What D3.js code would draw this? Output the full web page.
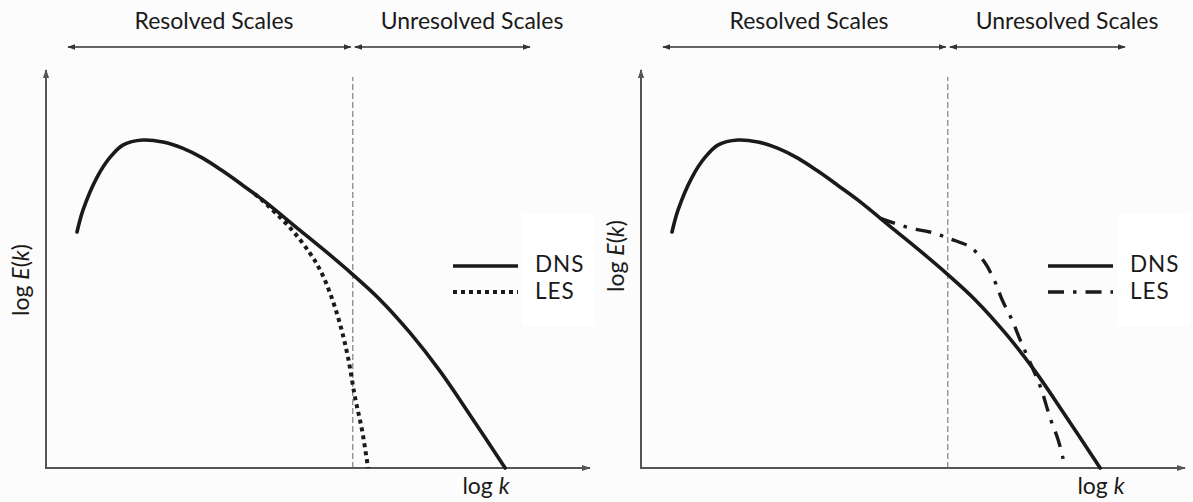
<!DOCTYPE html>
<html>
<head>
<meta charset="utf-8">
<script src="https://cdn.jsdelivr.net/npm/d3@7"></script>
<style>
  html, body { margin: 0; padding: 0; background: #fcfcfc; }
  svg { display: block; }
  text { font-family: Lato, "Open Sans", sans-serif; fill: #1a1a1a; }
</style>
</head>
<body>
<svg id="chart" width="1193" height="502"></svg>
<script>
// Energy spectrum, arbitrary log units (log k on x, log E(k) on y)
const dnsLogK = [0.57, 0.68, 0.94, 1.18, 1.42, 1.78, 2.15, 2.52, 2.89, 3.25, 3.62, 3.99, 4.67, 5.17, 5.64, 6.14, 6.69, 7.24, 7.79, 8.44];
const dnsLogE = [5.93, 6.48, 7.31, 7.81, 8.12, 8.24, 8.19, 8.03, 7.78, 7.46, 7.10, 6.73, 5.97, 5.41, 4.86, 4.23, 3.40, 2.44, 1.34, 0.00];

// Filtered (LES) spectrum that drops off before the cutoff
const lesDropLogK = [3.84, 3.97, 4.49, 4.85, 5.04, 5.22, 5.40, 5.55, 5.68, 5.81, 5.92];
const lesDropLogE = [6.88, 6.73, 6.03, 5.40, 4.97, 4.40, 3.64, 2.79, 1.78, 0.95, 0.00];

// LES spectrum with energy pile-up near the cutoff
const lesPileLogK = [4.39, 4.94, 5.31, 5.70, 6.05, 6.31, 6.51, 6.64, 6.82, 6.97, 7.15, 7.35, 7.52, 7.67, 7.76];
const lesPileLogE = [6.28, 6.03, 5.93, 5.75, 5.55, 5.18, 4.67, 4.22, 3.72, 3.22, 2.66, 2.01, 1.26, 0.70, 0.23];

const cutoffLogK = 5.64;
const regionLabels = ["Resolved Scales", "Unresolved Scales"];
const seriesLabels = ["DNS", "LES"];

const svg = d3.select("#chart");
const ink = "#1a1a1a";
const axisInk = "#555";

const defs = svg.append("defs");
function arrowMarker(id, size, color) {
  defs.append("marker")
    .attr("id", id)
    .attr("viewBox", "0 0 10 10")
    .attr("refX", 9).attr("refY", 5)
    .attr("markerWidth", size).attr("markerHeight", size)
    .attr("markerUnits", "userSpaceOnUse")
    .attr("orient", "auto-start-reverse")
    .append("path")
    .attr("d", "M0,1.5 L10,5 L0,8.5 Z")
    .attr("fill", color);
}
arrowMarker("axisArrow", 9, axisInk);
arrowMarker("spanArrow", 8, "#333");

const panels = [
  { dx: 0, les: { k: lesDropLogK, e: lesDropLogE, dash: "4 4", width: 4 }, yTitleCy: 280, xTitleCx: 486 },
  { dx: 595, les: { k: lesPileLogK, e: lesPileLogE, dash: "16 9 3.5 9", width: 3.4 }, yTitleCy: 256, xTitleCx: 1101 }
];

panels.forEach(p => {
  const g = svg.append("g").attr("transform", `translate(${p.dx},0)`);
  const x = d3.scaleLinear().domain([0, 10]).range([46, 590]);
  const y = d3.scaleLinear().domain([0, 10]).range([468, 70]);

  // white panel behind the legend
  g.append("rect").attr("x", 522).attr("y", 214).attr("width", 73).attr("height", 112).attr("fill", "#fff");

  // axes with arrow heads
  g.append("line")
    .attr("x1", x(0)).attr("y1", y(0)).attr("x2", x(0)).attr("y2", y(10))
    .attr("stroke", axisInk).attr("stroke-width", 2)
    .attr("marker-end", "url(#axisArrow)");
  g.append("line")
    .attr("x1", x(0) - 1).attr("y1", y(0)).attr("x2", x(10)).attr("y2", y(0))
    .attr("stroke", axisInk).attr("stroke-width", 2)
    .attr("marker-end", "url(#axisArrow)");

  // cutoff wavenumber
  g.append("line")
    .attr("x1", x(cutoffLogK)).attr("x2", x(cutoffLogK))
    .attr("y1", y(0)).attr("y2", 77)
    .attr("stroke", "#666").attr("stroke-width", 1)
    .attr("stroke-dasharray", "6 3");

  // resolved / unresolved spans
  const spanY = 47;
  g.append("line")
    .attr("x1", x(cutoffLogK) - 2).attr("x2", 68).attr("y1", spanY).attr("y2", spanY)
    .attr("stroke", "#333").attr("stroke-width", 1.4)
    .attr("marker-start", "url(#spanArrow)").attr("marker-end", "url(#spanArrow)");
  g.append("line")
    .attr("x1", x(cutoffLogK) + 2).attr("x2", 530).attr("y1", spanY).attr("y2", spanY)
    .attr("stroke", "#333").attr("stroke-width", 1.4)
    .attr("marker-start", "url(#spanArrow)").attr("marker-end", "url(#spanArrow)");

  g.append("text").attr("x", 214).attr("y", 29).attr("text-anchor", "middle")
    .attr("font-size", 23).text(regionLabels[0]);
  g.append("text").attr("x", 472).attr("y", 29).attr("text-anchor", "middle")
    .attr("font-size", 23).text(regionLabels[1]);

  const line = d3.line().x(d => x(d[0])).y(d => y(d[1])).curve(d3.curveCatmullRom.alpha(0.5));

  // LES
  g.append("path")
    .attr("d", line(p.les.k.map((k, i) => [k, p.les.e[i]])))
    .attr("fill", "none").attr("stroke", ink).attr("stroke-width", p.les.width)
    .attr("stroke-dasharray", p.les.dash);

  // DNS
  g.append("path")
    .attr("d", line(dnsLogK.map((k, i) => [k, dnsLogE[i]])))
    .attr("fill", "none").attr("stroke", ink).attr("stroke-width", 3.6)
    .attr("stroke-linecap", "round");

  // legend
  g.append("line").attr("x1", 453).attr("x2", 518).attr("y1", 266).attr("y2", 266)
    .attr("stroke", ink).attr("stroke-width", 3.4);
  g.append("line").attr("x1", 453).attr("x2", 518).attr("y1", 292).attr("y2", 292)
    .attr("stroke", ink).attr("stroke-width", p.les.width).attr("stroke-dasharray", p.les.dash);
  g.append("text").attr("x", 535).attr("y", 272).attr("font-size", 22.5)
    .attr("letter-spacing", 1).text(seriesLabels[0]);
  g.append("text").attr("x", 535).attr("y", 299).attr("font-size", 22.5)
    .attr("letter-spacing", 1).text(seriesLabels[1]);

  // axis titles
  const xt = g.append("text").attr("x", p.xTitleCx - p.dx).attr("y", 494)
    .attr("text-anchor", "middle").attr("font-size", 23);
  xt.append("tspan").text("log ");
  xt.append("tspan").attr("font-style", "italic").text("k");

  const yt = g.append("text")
    .attr("transform", `translate(29,${p.yTitleCy}) rotate(-90)`)
    .attr("text-anchor", "middle").attr("font-size", 23);
  yt.append("tspan").text("log ");
  yt.append("tspan").attr("font-style", "italic").text("E");
  yt.append("tspan").text("(");
  yt.append("tspan").attr("font-style", "italic").text("k");
  yt.append("tspan").text(")");
});
</script>
</body>
</html>
